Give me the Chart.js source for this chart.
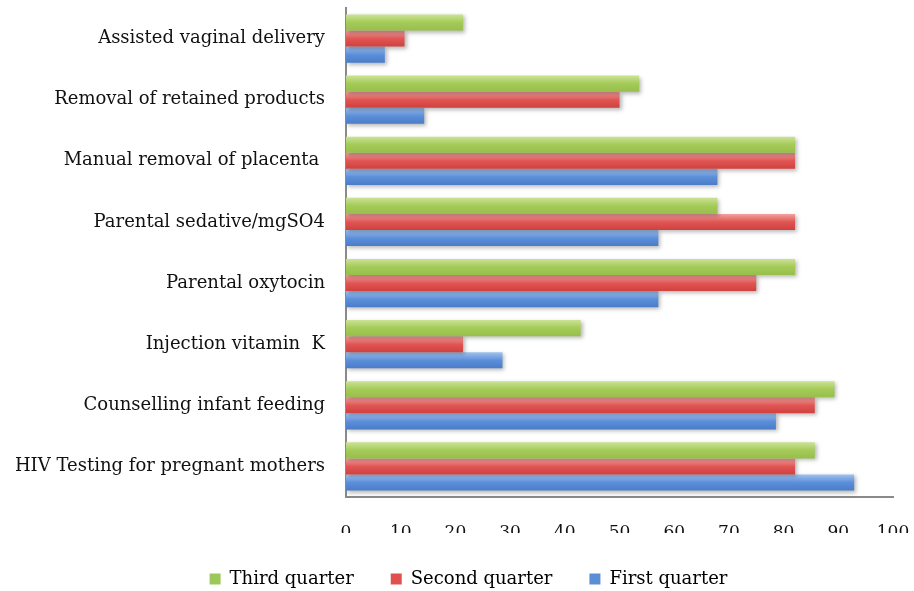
<!DOCTYPE html>
<html><head><meta charset="utf-8">
<script src="https://cdn.jsdelivr.net/npm/chart.js@4/dist/chart.umd.min.js"></script>
<style>html,body{margin:0;padding:0;background:#fff}#wrap{width:914px;height:591px}</style>
</head><body><div id="wrap"><canvas id="c" width="914" height="591"></canvas></div>
<script>
const categories = ["Assisted vaginal delivery","Removal of retained products","Manual removal of placenta ","Parental sedative/mgSO4","Parental oxytocin","Injection vitamin  K","Counselling infant feeding","HIV Testing for pregnant mothers"];
const seriesNames = ["Third quarter","Second quarter","First quarter"];
const thirdQuarter  = [21.4, 53.6, 82.1, 67.9, 82.1, 42.9, 89.3, 85.7];
const secondQuarter = [10.7, 50.0, 82.1, 82.1, 75.0, 21.4, 85.7, 82.1];
const firstQuarter  = [7.1, 14.3, 67.9, 57.1, 57.1, 28.6, 78.6, 92.9];
const xTicks = [0,10,20,30,40,50,60,70,80,90,100];

const palettes = [
  ["#cbe395","#a4ca58","#98bf4c"],
  ["#f3a2a0","#e05654","#d0403e"],
  ["#a0c2ef","#5c8fda","#4a7cc8"]
];
const legendColors = ["#9cc85a","#e0504f","#5a8fd5"];
const CAT_PCT = 0.79;
function grad(ctx){
  const chart = ctx.chart, y = chart.scales.y;
  const pal = palettes[ctx.datasetIndex];
  if(!y || ctx.dataIndex === undefined) return pal[1];
  const band = Math.abs(y.getPixelForValue(1) - y.getPixelForValue(0));
  const bh = band*CAT_PCT/3;
  const c = y.getPixelForValue(ctx.dataIndex) + (ctx.datasetIndex-1)*bh;
  const g = chart.ctx.createLinearGradient(0, c-bh/2, 0, c+bh/2);
  g.addColorStop(0, pal[0]); g.addColorStop(0.5, pal[1]); g.addColorStop(1, pal[2]);
  return g;
}
const shadow = {
  id:'shadow',
  beforeInit(chart){
    const lg = chart.legend;
    if(lg){ const fit = lg.fit; lg.fit = function(){ fit.call(this); this.height = 58; }; }
  },
  afterLayout(chart){
    const lg = chart.legend;
    if(lg){ lg.left += 22; lg.right += 22; }
  },
  beforeDatasetsDraw(chart){ const c=chart.ctx; c.save(); c.shadowColor='rgba(0,0,0,0.28)'; c.shadowBlur=4; c.shadowOffsetX=2; c.shadowOffsetY=2; },
  afterDatasetsDraw(chart){ chart.ctx.restore(); }
};
const font = {family:"'DejaVu Serif', serif", size:18};
const numFont = {family:"'DejaVu Serif', serif", size:17};
new Chart(document.getElementById('c'), {
  type:'bar',
  data:{ labels:categories, datasets:[
    {label:seriesNames[0], data:thirdQuarter, backgroundColor:grad},
    {label:seriesNames[1], data:secondQuarter, backgroundColor:grad},
    {label:seriesNames[2], data:firstQuarter, backgroundColor:grad}
  ]},
  options:{
    indexAxis:'y', responsive:false, animation:false,
    categoryPercentage:CAT_PCT, barPercentage:1.0,
    layout:{padding:{left:0,right:21,top:8,bottom:0}},
    scales:{
      x:{min:0,max:100, afterBuildTicks(s){ s.ticks = xTicks.map(v=>({value:v})); },
         grid:{display:false}, border:{display:true,color:'#8a8a8a',width:2},
         ticks:{color:'#111', font:numFont, padding:17, maxRotation:0},
         afterFit(s){ s.height = 36; s.paddingLeft = 0; s.paddingRight = 0; }},
      y:{grid:{display:false}, border:{display:true,color:'#8a8a8a',width:2},
         ticks:{color:'#111', font:font, padding:13},
         afterFit(s){ s.width = 346; s.paddingTop = 0; s.paddingBottom = 0; }}
    },
    plugins:{
      tooltip:{enabled:false},
      legend:{position:'bottom', labels:{font:font, color:'#111', boxWidth:11, boxHeight:11, padding:37,
        generateLabels(chart){ return seriesNames.map((n,i)=>({text:n, fillStyle:legendColors[i], strokeStyle:legendColors[i], lineWidth:0, datasetIndex:i})); }}}
    }
  },
  plugins:[shadow]
});
</script></body></html>
